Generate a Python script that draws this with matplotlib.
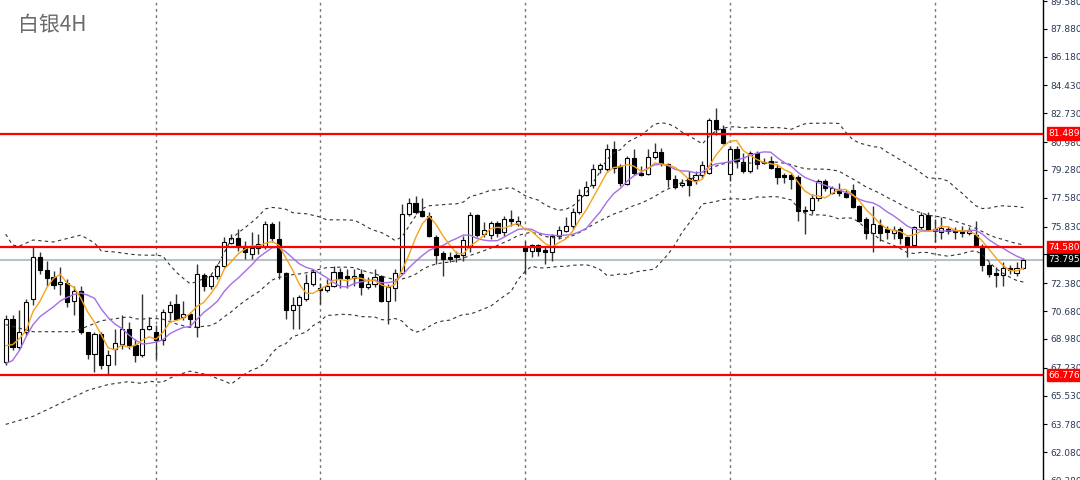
import numpy as np
import pandas as pd
import matplotlib
matplotlib.use('Agg')
import matplotlib.pyplot as plt

title = '白银4H'

opens = [67.58, 70.17, 68.49, 69.42, 71.43, 73.96, 73.20, 72.74, 72.32, 72.40,
         71.32, 71.93, 69.40, 68.09, 69.30, 67.38, 68.39, 68.69, 69.56, 68.59,
         67.98, 69.60, 69.40, 68.89, 70.62, 71.10, 70.29, 70.50, 69.71, 72.90,
         72.20, 72.80, 73.45, 74.83, 75.11, 74.62, 74.16, 74.50, 74.66, 75.98,
         75.07, 73.00, 70.76, 71.02, 71.43, 72.34, 72.09, 71.97, 72.23, 73.08,
         72.80, 72.68, 72.94, 72.13, 72.34, 72.80, 71.32, 72.07, 72.98, 76.59,
         77.26, 76.75, 76.48, 75.21, 74.20, 73.99, 74.08, 74.10, 74.59, 76.53,
         75.37, 75.31, 76.02, 75.48, 76.28, 75.98, 74.62, 74.36, 74.72, 74.42,
         74.26, 75.23, 75.57, 75.84, 76.69, 77.76, 78.35, 79.36, 79.36, 80.53,
         79.52, 78.41, 80.03, 79.12, 79.01, 80.09, 80.39, 79.62, 78.71, 78.35,
         78.81, 78.67, 78.95, 79.12, 82.31, 81.79, 79.01, 80.57, 79.76, 79.22,
         80.33, 79.76, 79.82, 79.42, 78.95, 78.95, 78.87, 76.83, 76.85, 77.60,
         78.61, 77.90, 78.10, 77.90, 78.06, 77.09, 76.28, 75.43, 75.94, 75.68,
         75.43, 75.68, 75.17, 74.70, 75.78, 76.53, 75.68, 75.51, 75.68, 75.63,
         75.57, 75.43, 75.31, 74.66, 73.49, 72.98, 72.88, 73.33, 73.00, 73.29]
highs = [70.41, 70.41, 70.72, 71.43, 74.66, 74.28, 73.75, 73.14, 73.35, 72.64,
         72.23, 72.21, 69.42, 69.40, 69.40, 68.29, 69.60, 70.41, 70.01, 69.00,
         71.73, 70.31, 69.80, 70.82, 71.32, 71.73, 71.32, 70.62, 73.55, 73.00,
         72.94, 73.55, 75.17, 75.37, 75.68, 74.96, 75.47, 75.37, 76.18, 76.08,
         76.18, 73.05, 71.53, 71.63, 72.94, 73.25, 72.40, 72.64, 73.45, 73.29,
         73.25, 73.25, 73.25, 72.74, 73.25, 72.88, 72.34, 73.25, 77.19, 77.60,
         77.70, 77.60, 76.69, 75.31, 74.36, 74.30, 74.36, 75.27, 76.69, 76.59,
         76.08, 76.18, 76.18, 76.48, 76.85, 76.48, 74.95, 74.76, 74.76, 74.66,
         75.37, 75.87, 76.39, 76.99, 78.10, 78.61, 79.62, 79.73, 80.84, 81.04,
         79.62, 80.13, 80.57, 79.52, 80.53, 80.94, 80.64, 79.73, 78.95, 78.71,
         79.22, 79.22, 79.82, 82.46, 83.06, 82.05, 80.73, 80.73, 80.33, 80.43,
         80.43, 80.03, 80.13, 79.62, 79.12, 79.12, 78.95, 77.09, 77.80, 78.71,
         78.75, 78.30, 78.47, 78.06, 78.41, 77.13, 76.39, 77.09, 76.28, 75.87,
         75.87, 75.78, 75.27, 75.87, 76.69, 76.69, 76.28, 76.39, 75.87, 75.78,
         75.87, 75.78, 76.18, 74.76, 73.69, 73.35, 73.65, 73.49, 73.65, 73.90]
lows = [67.36, 68.29, 68.29, 69.20, 71.02, 72.94, 72.23, 72.03, 71.63, 70.92,
        70.41, 69.30, 67.78, 66.97, 67.17, 66.87, 67.38, 68.39, 68.39, 67.58,
        67.90, 69.50, 67.78, 68.59, 70.11, 70.11, 70.11, 69.71, 69.10, 71.93,
        72.03, 72.64, 73.35, 74.76, 74.36, 73.85, 73.85, 74.16, 74.46, 74.87,
        72.64, 70.21, 69.60, 69.60, 71.32, 72.23, 71.12, 71.83, 72.13, 72.07,
        72.07, 72.23, 71.63, 72.03, 72.13, 71.26, 69.91, 71.32, 72.94, 76.48,
        76.59, 76.39, 75.17, 73.55, 72.84, 73.65, 73.65, 73.75, 74.26, 75.17,
        75.17, 75.07, 75.17, 75.27, 75.87, 75.87, 72.94, 73.96, 74.05, 73.55,
        73.75, 75.07, 75.47, 75.68, 76.59, 77.70, 78.21, 79.12, 79.22, 79.12,
        78.30, 78.35, 78.95, 78.91, 78.95, 79.93, 79.52, 78.27, 78.10, 78.27,
        77.70, 78.41, 78.81, 79.01, 81.44, 80.84, 78.61, 79.42, 79.12, 79.12,
        79.32, 79.62, 79.32, 78.41, 78.51, 78.10, 76.18, 75.37, 76.59, 77.39,
        78.00, 77.80, 77.70, 77.60, 76.99, 76.08, 75.07, 74.26, 74.96, 75.07,
        75.07, 74.76, 73.96, 74.66, 75.68, 75.57, 74.87, 75.07, 75.37, 75.07,
        75.17, 75.31, 74.62, 73.14, 72.74, 72.13, 72.23, 72.94, 72.84, 73.25]
closes = [70.17, 68.49, 69.40, 71.24, 73.98, 73.20, 72.68, 72.28, 72.44, 71.26,
          71.93, 69.40, 68.09, 69.30, 67.38, 68.03, 68.75, 69.60, 68.59, 67.98,
          69.60, 69.77, 68.89, 70.62, 71.06, 70.21, 70.50, 70.17, 72.94, 72.20,
          72.80, 73.41, 74.87, 75.11, 74.56, 74.26, 74.50, 74.76, 75.98, 75.11,
          73.05, 70.76, 71.06, 71.53, 72.38, 73.08, 71.97, 72.23, 73.08, 72.68,
          72.68, 72.84, 72.13, 72.34, 72.74, 71.32, 72.13, 72.98, 76.59, 77.26,
          76.69, 76.48, 75.27, 74.10, 73.85, 73.85, 73.98, 75.03, 76.53, 75.31,
          75.63, 76.02, 75.43, 76.28, 76.18, 76.18, 74.36, 74.72, 74.36, 74.30,
          75.23, 75.63, 75.84, 76.73, 77.76, 78.27, 79.36, 79.56, 80.53, 79.42,
          78.51, 80.03, 79.07, 78.95, 80.09, 80.39, 79.73, 78.71, 78.27, 78.47,
          78.35, 78.95, 79.56, 82.31, 81.75, 80.94, 80.57, 79.82, 79.22, 80.33,
          79.62, 79.68, 79.42, 78.87, 78.87, 78.71, 76.79, 76.75, 77.60, 78.61,
          78.15, 78.15, 77.90, 77.66, 77.05, 76.18, 75.43, 75.98, 75.43, 75.47,
          75.63, 75.11, 74.66, 75.78, 76.53, 75.63, 75.57, 75.72, 75.57, 75.51,
          75.43, 75.57, 74.70, 73.49, 72.94, 72.90, 73.29, 73.19, 73.29, 73.795]

fast_lead_bars = [0, 1, 2, 3]
fast_lead = [68.57, 68.63, 68.99, 69.50]
slow_lead_bars = [0, 1, 2, 3, 4, 5, 6, 7, 8]
slow_lead = [67.48, 67.66, 68.27, 69.12, 69.85, 70.33, 70.64, 70.94, 71.30]
bb_up_lead_bars = [0, 1, 2, 4, 7, 11, 13, 14, 16, 18]
bb_up_lead = [75.37, 74.70, 74.64, 75.01, 74.89, 75.31, 74.83, 74.34, 74.28, 74.16]
bb_mid_lead_bars = [0, 4, 10, 14, 18]
bb_mid_lead = [69.85, 69.42, 69.42, 70.09, 70.33]
bb_lo_lead_bars = [0, 4, 8, 12, 15, 18]
bb_lo_lead = [63.77, 64.26, 65.05, 65.84, 66.20, 66.38]

levels = [81.489, 74.580, 66.776]
current_price = 73.795
ytick_values = [89.580, 87.880, 86.180, 84.430, 82.730, 80.980, 79.280, 77.580,
                75.830, 74.130, 72.380, 70.680, 68.980, 67.230, 65.530, 63.780,
                62.080, 60.380]
grid_bars = [22, 46, 76, 106, 136]

W, H = 1080, 480
fig = plt.figure(figsize=(W / 100, H / 100), dpi=100)
plot_right = 1043
ax = fig.add_axes([0, 0, plot_right / W, 1])

n = len(closes)
x = np.arange(n)
o = np.array(opens); h = np.array(highs); l = np.array(lows); c = np.array(closes)

# indicators from the closes
s = pd.Series(c)
ma_fast = s.rolling(5).mean()
ma_slow = s.rolling(10).mean()
bb_mid = s.rolling(20).mean()
bb_sd = s.rolling(20).std(ddof=0)
bb_up = bb_mid + 2 * bb_sd
bb_lo = bb_mid - 2 * bb_sd


def joined(lead_bars, lead_vals, series):
    valid = series.notna().values
    xs = np.concatenate([np.array(lead_bars, float), x[valid]])
    ys = np.concatenate([np.array(lead_vals, float), series.values[valid]])
    return xs, ys


# vertical grid
for g in grid_bars:
    ax.axvline(g, color='#777777', lw=1.0, ls=(0, (2, 2.5)), zorder=1)

# horizontal lines
ax.axhline(current_price, color='#b8c0c8', lw=1.5, zorder=2)
for lv in levels:
    ax.axhline(lv, color='#ff0000', lw=1.6, zorder=6)

# candles
up = c >= o
ax.vlines(x, l, h, color='#333333', lw=1.0, zorder=3)
bw = 0.6
ax.bar(x[up], (c - o)[up], bottom=o[up], width=bw, color='white',
       edgecolor='black', linewidth=0.8, zorder=4)
ax.bar(x[~up], (o - c)[~up], bottom=c[~up], width=bw, color='black',
       edgecolor='black', linewidth=0.8, zorder=4)

# indicator lines
for lb, lv_, ser in ((bb_up_lead_bars, bb_up_lead, bb_up),
                     (bb_mid_lead_bars, bb_mid_lead, bb_mid),
                     (bb_lo_lead_bars, bb_lo_lead, bb_lo)):
    xs, ys = joined(lb, lv_, ser)
    ax.plot(xs, ys, color='#333333', lw=0.8, ls=(0, (3, 3)), zorder=5)
xs, ys = joined(slow_lead_bars, slow_lead, ma_slow)
ax.plot(xs, ys, color='#a56ee6', lw=1.0, zorder=5)
xs, ys = joined(fast_lead_bars, fast_lead, ma_fast)
ax.plot(xs, ys, color='#f7a21b', lw=1.0, zorder=5)

ax.set_xlim(-0.835, (plot_right - 5.7) / 6.83)
ax.set_ylim(60.49, 89.641)

for sp in ('top', 'left', 'bottom'):
    ax.spines[sp].set_visible(False)
ax.spines['right'].set_color('black')
ax.spines['right'].set_linewidth(1.0)
ax.set_xticks([])
ax.yaxis.tick_right()
ax.set_yticks(ytick_values)
ax.set_yticklabels([f'{v:.3f}' for v in ytick_values])
ax.tick_params(axis='y', direction='out', length=3, width=0.8, pad=2,
               labelsize=6.5, labelcolor='#2a3a55', color='black')


# price labels on the right axis
def tag(val, fc):
    ax.annotate(f'{val:.3f}', xy=(1.0, val), xycoords=('axes fraction', 'data'),
                xytext=(4, 0), textcoords='offset points', ha='left', va='center',
                fontsize=6.5, color='white', zorder=10, annotation_clip=False,
                bbox=dict(boxstyle='square,pad=0.2', fc=fc, ec=fc))


for lv in levels:
    tag(lv, '#ff0000')
tag(current_price, '#000000')

fig.text(18 / W, 1 - 25 / H, title, fontsize=15, color='#6a6a6a', va='center',
         ha='left', family=['Noto Sans CJK SC', 'DejaVu Sans'])

fig.savefig('out.png', dpi=100, facecolor='white')
